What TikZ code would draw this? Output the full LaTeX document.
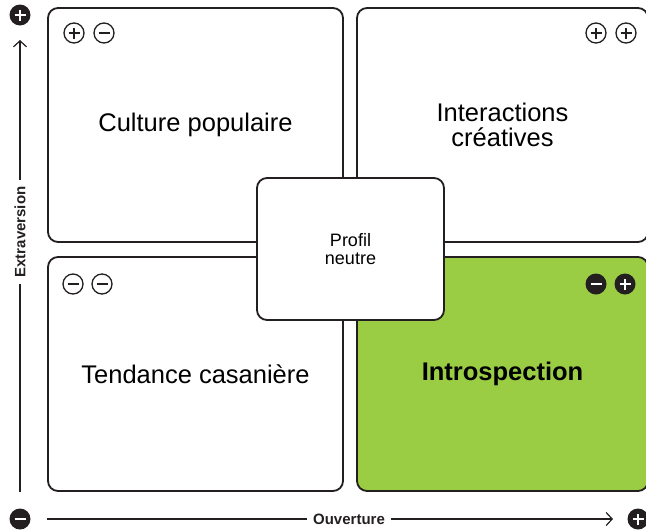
\documentclass[tikz,border=0pt]{standalone}
\usepackage{fontspec}
\setmainfont{Liberation Sans}
\usetikzlibrary{arrows.meta}
\definecolor{introgreen}{RGB}{154,204,68}
\definecolor{inkgray}{RGB}{35,31,32}
\tikzset{
  quad/.style={draw=inkgray, line width=1.8pt, rounded corners=10pt, fill=white,
    align=center, inner sep=0pt, font=\fontsize{25.5}{25}\selectfont},
  sign/.style={circle, draw=inkgray, line width=1.3pt, minimum size=20pt, inner sep=0pt},
  darksign/.style={circle, fill=inkgray, minimum size=21pt, inner sep=0pt},
  withplus/.style={path picture={
    \draw[line width=1.4pt, draw=#1]
      ([xshift=-5.5pt]path picture bounding box.center) -- ([xshift=5.5pt]path picture bounding box.center)
      ([yshift=-5.5pt]path picture bounding box.center) -- ([yshift=5.5pt]path picture bounding box.center);}},
  withplus/.default=inkgray,
  withminus/.style={path picture={
    \draw[line width=1.4pt, draw=#1]
      ([xshift=-5.5pt]path picture bounding box.center) -- ([xshift=5.5pt]path picture bounding box.center);}},
  withminus/.default=inkgray,
  axislabel/.style={font=\bfseries\fontsize{15}{15}\selectfont, text=inkgray, inner sep=6pt},
  axisline/.style={draw=inkgray, line width=1.2pt},
}
\begin{document}
\begin{tikzpicture}[x=1pt, y=-1pt]
  \useasboundingbox (0,0) rectangle (646,531);
  \clip (0,0) rectangle (646,531);
  % quadrants
  \node[quad, minimum width=295pt, minimum height=234pt] (popular) at (195.5,125) {Culture populaire};
  \node[quad, minimum width=291pt, minimum height=234pt] (creative) at (502.5,125) {Interactions\\créatives};
  \node[quad, minimum width=295pt, minimum height=234pt] (homebody) at (195.5,374) {Tendance casanière};
  \node[quad, minimum width=291pt, minimum height=234pt, fill=introgreen,
    font=\bfseries\fontsize{25.5}{25}\selectfont] (intro) at (502.5,374) {Introspection};
  \node[quad, minimum width=187pt, minimum height=142pt,
    font=\fontsize{18}{18.5}\selectfont] (neutral) at (350.5,249) {Profil\\neutre};
  % signs
  \node[sign, withplus] (pp1) at (74,33) {};
  \node[sign, withminus] (pm1) at (104,33) {};
  \node[sign, withplus] (cp1) at (596,33) {};
  \node[sign, withplus] (cp2) at (626,33) {};
  \node[sign, withminus] (hm1) at (73,284) {};
  \node[sign, withminus] (hm2) at (102,284) {};
  \node[darksign, withminus=white] (im1) at (596,284) {};
  \node[darksign, withplus=white] (ip1) at (625,284) {};
  % axes
  \node[darksign, withplus=white] (yplus) at (20,15) {};
  \node[darksign, withminus=white] (origin) at (20,519) {};
  \node[darksign, withplus=white] (xplus) at (638,519) {};
  \node[axislabel, rotate=90] (extra) at (20,232) {Extraversion};
  \node[axislabel] (open) at (349,519) {Ouverture};
  \coordinate (ystart) at (20,492);
  \coordinate (ytip) at (20,40);
  \coordinate (xstart) at (47,519);
  \coordinate (xtip) at (613,519);
  \draw[axisline] (ystart) -- (extra);
  \draw[axisline, -{Straight Barb[length=6pt, width=13pt]}] (extra) -- (ytip);
  \draw[axisline] (xstart) -- (open);
  \draw[axisline, -{Straight Barb[length=6pt, width=13pt]}] (open) -- (xtip);
\end{tikzpicture}
\end{document}
